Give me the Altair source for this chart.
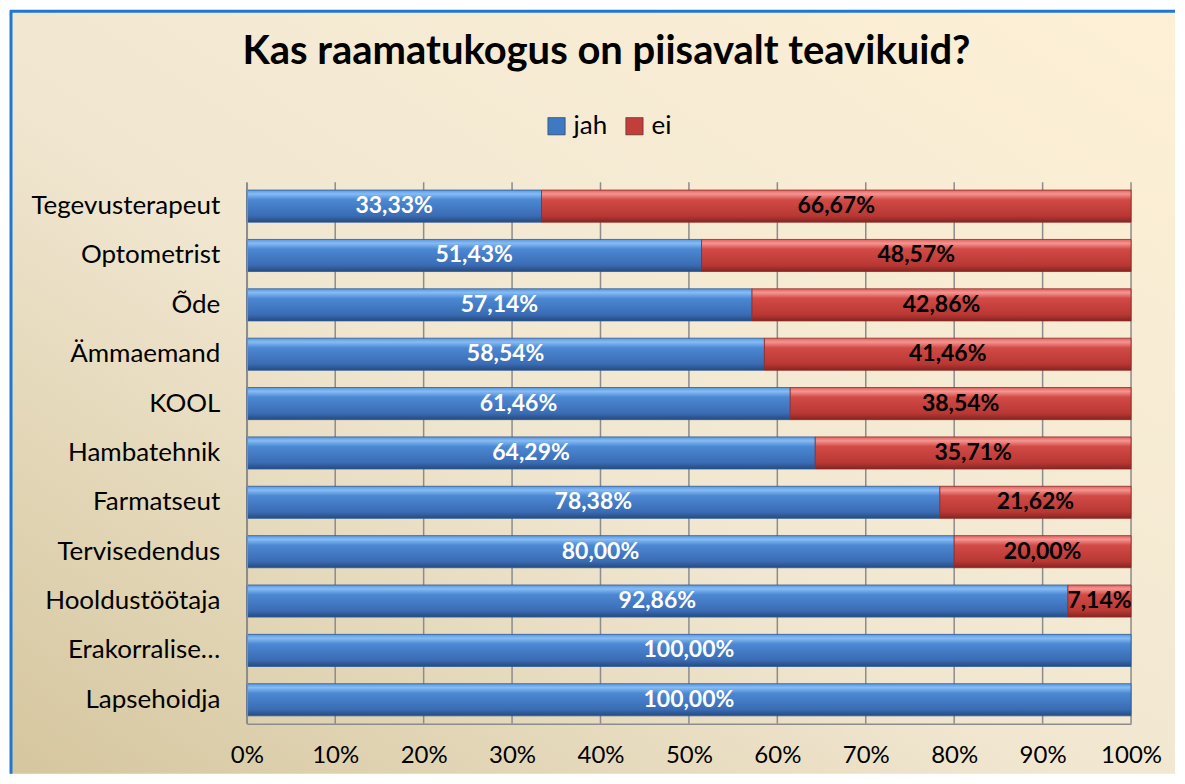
import altair as alt
import pandas as pd

categories = ["Tegevusterapeut", "Optometrist", "Õde", "Ämmaemand", "KOOL", "Hambatehnik",
              "Farmatseut", "Tervisedendus", "Hooldustöötaja", "Erakorralise…", "Lapsehoidja"]
jah = [33.33, 51.43, 57.14, 58.54, 61.46, 64.29, 78.38, 80.00, 92.86, 100.00, 100.00]
ei = [66.67, 48.57, 42.86, 41.46, 38.54, 35.71, 21.62, 20.00, 7.14, 0.0, 0.0]
series = ["jah", "ei"]
tick_values = [0, 10, 20, 30, 40, 50, 60, 70, 80, 90, 100]
title_text = "Kas raamatukogus on piisavalt teavikuid?"


def fmt(v):
    return f"{v:.2f}".replace(".", ",") + "%"


df = pd.DataFrame({
    "cat": categories,
    "jah": jah,
    "ei": ei,
    "jah_lbl": [fmt(v) for v in jah],
    "ei_lbl": [fmt(v) for v in ei],
})
df["total"] = df["jah"] + df["ei"]
df["jah_mid"] = df["jah"] / 2
df["ei_mid"] = df["jah"] + df["ei"] / 2

ticks_df = pd.DataFrame({"t": tick_values})
one = pd.DataFrame({"title": [title_text]})
legend_df = pd.DataFrame({"s": series})

FONT = "Lato"
W, H = 885, 542

xscale = alt.Scale(domain=[0, 100], nice=False, zero=True)
xaxis = alt.Axis(values=tick_values, labelExpr="datum.value + '%'", grid=False, ticks=False,
                 domain=True, domainColor="#8C8C8C", domainWidth=1.5, labelFontSize=24,
                 labelFont=FONT, labelColor="#000000", labelPadding=20, labelFlush=False,
                 labelOverlap=False, title=None, zindex=1)
yscale = alt.Scale(domain=categories, paddingInner=0.35, paddingOuter=0.16)
yaxis = alt.Axis(title=None, ticks=False, domain=True, domainColor="#8C8C8C", domainWidth=1.5,
                 labelFontSize=26, labelFont=FONT, labelColor="#000000", labelPadding=27,
                 labelLimit=400, zindex=1)

X = lambda f: alt.X(f, type="quantitative", scale=xscale, axis=xaxis, stack=None)
Y = alt.Y("cat:N", sort=categories, scale=yscale, axis=yaxis)


def grad(stops, x1=0, y1=0, x2=0, y2=1):
    return alt.LinearGradient(
        gradient="linear",
        stops=[alt.GradientStop(color=c, offset=o) for o, c in stops],
        x1=x1, y1=y1, x2=x2, y2=y2,
    )


bg_grad = grad([(0, "#D5C69E"), (0.45, "#F1E7D1"), (1, "#FDF0D6")], x1=0, y1=1, x2=1, y2=0)
blue_grad = grad([(0, "#5A97E0"), (0.12, "#86BCF5"), (0.3, "#4C88D3"), (0.8, "#3A6CB4"), (1, "#264A80")])
red_grad = grad([(0, "#E0625E"), (0.12, "#F59591"), (0.3, "#D24A46"), (0.8, "#B93834"), (1, "#862421")])

bg = alt.Chart(one).mark_rect(fill=bg_grad).encode(
    x=alt.value(-237), x2=alt.value(929), y=alt.value(-172), y2=alt.value(592)
)
frame_left = alt.Chart(one).mark_rule(color="#1F78D0", strokeWidth=3).encode(
    x=alt.value(-236), y=alt.value(-172), y2=alt.value(592)
)
frame_top = alt.Chart(one).mark_rule(color="#1F78D0", strokeWidth=3).encode(
    x=alt.value(-237), x2=alt.value(929), y=alt.value(-171)
)

grid = alt.Chart(ticks_df).mark_rule(color="#8C8C8C", strokeWidth=1.5).encode(x=X("t"))

bars_jah = alt.Chart(df).mark_bar(fill=blue_grad, stroke="#2D5A95", strokeWidth=0.8).encode(
    y=Y, x=X("jah")
)
bars_ei = alt.Chart(df).transform_filter("datum.ei > 0").mark_bar(
    fill=red_grad, stroke="#8E2A27", strokeWidth=0.8
).encode(y=Y, x=X("jah"), x2="total:Q")

txt_jah = alt.Chart(df).mark_text(font=FONT, fontSize=23, fontWeight="bold", color="white").encode(
    y=Y, x=X("jah_mid"), text="jah_lbl:N"
)
txt_ei = alt.Chart(df).transform_filter("datum.ei > 0").mark_text(
    font=FONT, fontSize=23, fontWeight="bold", color="black"
).encode(y=Y, x=X("ei_mid"), text="ei_lbl:N")

title = alt.Chart(one).mark_text(font=FONT, fontSize=40, fontWeight="bold", color="black",
                                 baseline="middle", align="center").encode(
    x=alt.value(360), y=alt.value(-130), text="title:N"
)

legend_layer = alt.Chart(legend_df).transform_filter("false").mark_square().encode(
    color=alt.Color("s:N", scale=alt.Scale(domain=series, range=["#3F79C2", "#C23E3A"]),
                    legend=alt.Legend(orient="none", legendX=297, legendY=-69, direction="horizontal",
                                      title=None, symbolType="square", symbolSize=300,
                                      symbolStrokeColor="#333333", symbolStrokeWidth=0.6,
                                      symbolOpacity=1, labelFont=FONT, labelFontSize=26,
                                      labelColor="#000000", columnPadding=14, labelOffset=4))
)

chart = alt.layer(bg, frame_left, frame_top, grid, bars_jah, bars_ei, txt_jah, txt_ei, title,
                  legend_layer).properties(
    width=W, height=H, padding=0
).configure_view(stroke=None)

chart.save("out.html", embed_options={"renderer": "svg", "actions": False})
